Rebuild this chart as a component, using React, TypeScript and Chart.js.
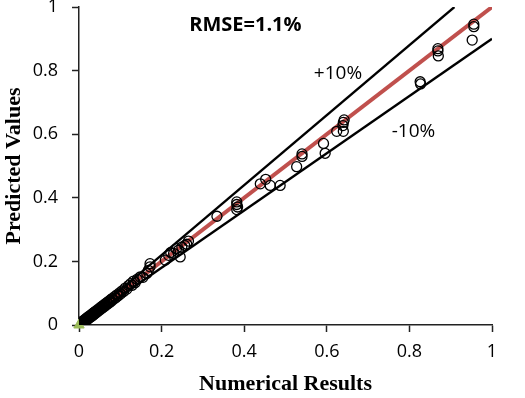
import React, { useEffect, useRef } from "react";
import { Chart, registerables } from "chart.js";

Chart.register(...registerables);

// Numerical results (x) against predicted values (y)
const numerical = [
  0.001, 0.003, 0.004, 0.006, 0.007, 0.009, 0.010, 0.012, 0.013, 0.015,
  0.016, 0.018, 0.019, 0.021, 0.022, 0.024, 0.025, 0.027, 0.028, 0.030,
  0.031, 0.033, 0.034, 0.036, 0.037, 0.039, 0.040, 0.042, 0.044, 0.046,
  0.048, 0.050, 0.052, 0.054, 0.056, 0.058, 0.060, 0.062, 0.064, 0.066,
  0.068, 0.070, 0.072, 0.074, 0.076, 0.078, 0.080, 0.083, 0.086, 0.089,
  0.092, 0.095, 0.098, 0.101, 0.104, 0.108, 0.112, 0.116, 0.120, 0.125,
  0.129, 0.132, 0.136, 0.141, 0.148, 0.155, 0.164, 0.168, 0.172, 0.172,
  0.209, 0.217, 0.222, 0.229, 0.236, 0.241, 0.245, 0.249, 0.256, 0.261,
  0.265, 0.334, 0.382, 0.382, 0.384, 0.382, 0.439, 0.452, 0.463, 0.487,
  0.527, 0.540, 0.540, 0.592, 0.596, 0.624, 0.639, 0.640, 0.640, 0.642,
  0.826, 0.827, 0.869, 0.869, 0.870, 0.952, 0.956, 0.956,
];
const predicted = [
  0.003, 0.000, 0.007, 0.003, 0.010, 0.006, 0.013, 0.009, 0.016, 0.012,
  0.019, 0.015, 0.022, 0.018, 0.025, 0.021, 0.028, 0.024, 0.031, 0.027,
  0.034, 0.030, 0.037, 0.033, 0.040, 0.036, 0.043, 0.039, 0.047, 0.043,
  0.051, 0.047, 0.055, 0.051, 0.059, 0.055, 0.063, 0.059, 0.067, 0.063,
  0.071, 0.067, 0.075, 0.071, 0.079, 0.075, 0.083, 0.080, 0.089, 0.086,
  0.095, 0.092, 0.101, 0.098, 0.107, 0.105, 0.116, 0.113, 0.124, 0.130,
  0.125, 0.138, 0.133, 0.144, 0.151, 0.150, 0.162, 0.172, 0.183, 0.193,
  0.204, 0.219, 0.228, 0.225, 0.240, 0.235, 0.214, 0.245, 0.250, 0.254,
  0.264, 0.342, 0.387, 0.379, 0.371, 0.363, 0.444, 0.458, 0.439, 0.439,
  0.498, 0.538, 0.530, 0.571, 0.540, 0.609, 0.627, 0.637, 0.609, 0.645,
  0.765, 0.758, 0.869, 0.862, 0.846, 0.896, 0.946, 0.938,
];

// Reference lines: perfect agreement and the ±10% band
const fitX = [0, 1];
const fitY = [0, 1];
const plusX = [0, 0.909];
const plusY = [0, 1];
const minusX = [0, 1];
const minusY = [0, 0.9];

const origin = [0];

const tickValues = [0, 0.2, 0.4, 0.6, 0.8, 1];

const toPoints = (xs: number[], ys: number[]) => xs.map((x, i) => ({ x, y: ys[i] }));

const notesPlugin = {
  id: "notes",
  afterDatasetsDraw(chart: any) {
    const { ctx, scales } = chart;
    const x = scales.x;
    const y = scales.y;
    ctx.save();
    ctx.fillStyle = "#000";
    ctx.textBaseline = "middle";
    ctx.font = "bold 20px 'Open Sans'";
    ctx.textAlign = "left";
    ctx.fillText("RMSE=1.1%", x.getPixelForValue(0.267), y.getPixelForValue(0.944));
    ctx.font = "19px 'Open Sans'";
    ctx.textAlign = "center";
    ctx.fillText("+10%", x.getPixelForValue(0.627), y.getPixelForValue(0.79));
    ctx.fillText("-10%", x.getPixelForValue(0.81), y.getPixelForValue(0.608));
    ctx.restore();
  },
};

export default function App() {
  const canvasRef = useRef<HTMLCanvasElement | null>(null);

  useEffect(() => {
    if (!canvasRef.current) return;
    const tickFormat = (v: any) => String(Math.round(Number(v) * 10) / 10);
    const chart = new Chart(canvasRef.current, {
      type: "scatter",
      data: {
        datasets: [
          {
            type: "line",
            data: toPoints(fitX, fitY),
            borderColor: "#C0504D",
            borderWidth: 4,
            pointRadius: 0,
            fill: false,
            order: 3,
          },
          {
            type: "line",
            data: toPoints(plusX, plusY),
            borderColor: "#000",
            borderWidth: 2.3,
            pointRadius: 0,
            fill: false,
            order: 2,
          },
          {
            type: "line",
            data: toPoints(minusX, minusY),
            borderColor: "#000",
            borderWidth: 2.3,
            pointRadius: 0,
            fill: false,
            order: 2,
          },
          {
            data: toPoints(origin, origin),
            pointStyle: "triangle",
            pointRadius: 6,
            backgroundColor: "#9BBB59",
            borderColor: "#9BBB59",
            clip: false as any,
            order: 4,
          },
          {
            data: toPoints(numerical, predicted),
            pointStyle: "circle",
            pointRadius: 5,
            borderWidth: 1.3,
            borderColor: "#000",
            backgroundColor: "rgba(0,0,0,0)",
            order: 1,
          },
        ],
      },
      options: {
        animation: false,
        responsive: true,
        maintainAspectRatio: false,
        layout: { padding: { top: 6, right: 33, left: 0, bottom: 0 } },
        plugins: {
          legend: { display: false },
          tooltip: { enabled: false },
        },
        scales: {
          x: {
            type: "linear",
            min: 0,
            max: 1,
            afterBuildTicks: (s: any) => {
              s.ticks = tickValues.map((v) => ({ value: v }));
            },
            afterFit: (s: any) => {
              s.height = 73;
              s.paddingLeft = 0;
              s.paddingRight = 0;
            },
            ticks: {
              callback: tickFormat,
              color: "#000",
              font: { family: "'Open Sans'", size: 18 },
              padding: 9,
              maxRotation: 0,
            },
            grid: {
              drawOnChartArea: false,
              drawTicks: true,
              tickLength: 7,
              tickColor: "#222",
              tickWidth: 1.5,
            },
            border: { color: "#222", width: 1.5 },
            title: {
              display: true,
              text: "Numerical Results",
              color: "#000",
              font: { family: "'Liberation Serif'", size: 22, weight: "bold" },
              padding: { top: 0, bottom: 0 },
            },
          },
          y: {
            type: "linear",
            min: 0,
            max: 1,
            afterBuildTicks: (s: any) => {
              s.ticks = tickValues.map((v) => ({ value: v }));
            },
            afterFit: (s: any) => {
              s.width = 79;
              s.paddingTop = 0;
              s.paddingBottom = 0;
            },
            ticks: {
              callback: tickFormat,
              color: "#000",
              font: { family: "'Open Sans'", size: 18 },
              padding: 14,
            },
            grid: {
              drawOnChartArea: false,
              drawTicks: true,
              tickLength: 7,
              tickColor: "#222",
              tickWidth: 1.5,
            },
            border: { color: "#222", width: 1.5 },
            title: {
              display: true,
              text: "Predicted Values",
              color: "#000",
              font: { family: "'Liberation Serif'", size: 22, weight: "bold" },
              padding: { top: 1, bottom: 0 },
            },
          },
        },
      },
      plugins: [notesPlugin],
    });
    return () => chart.destroy();
  }, []);

  return (
    <div style={{ position: "fixed", left: 0, top: 0, width: 525, height: 398, background: "#fff" }}>
      <canvas ref={canvasRef} />
    </div>
  );
}
